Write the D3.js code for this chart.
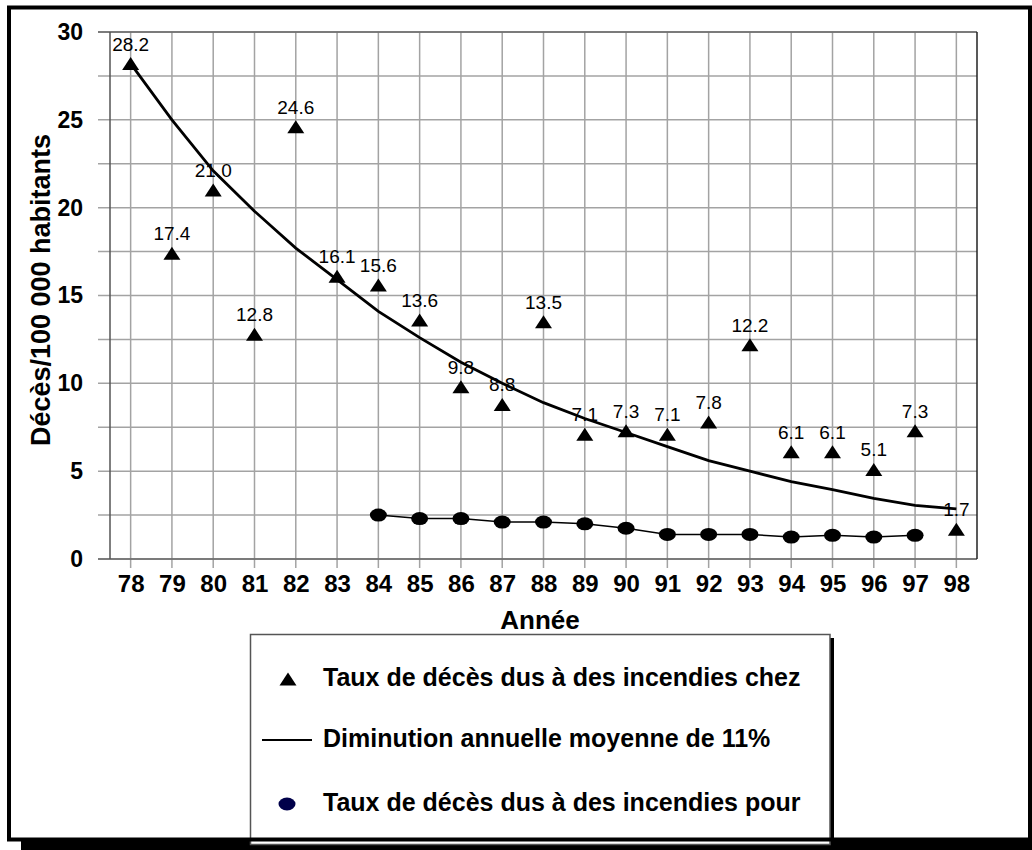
<!DOCTYPE html>
<html>
<head>
<meta charset="utf-8">
<script src="https://cdn.jsdelivr.net/npm/d3@7"></script>
<style>
  html, body { margin: 0; padding: 0; background: #fff; }
  svg { display: block; }
</style>
</head>
<body>
<script>
// ---------------- data ----------------
const years = ["78","79","80","81","82","83","84","85","86","87","88","89","90","91","92","93","94","95","96","97","98"];
const homeRates = [28.2,17.4,21.0,12.8,24.6,16.1,15.6,13.6,9.8,8.8,13.5,7.1,7.3,7.1,7.8,12.2,6.1,6.1,5.1,7.3,1.7];
const trendRates = [28.2,25.0,22.1,19.8,17.7,15.9,14.1,12.6,11.2,10.0,8.9,8.0,7.2,6.4,5.6,5.0,4.4,3.95,3.45,3.05,2.85];
const otherYears = ["84","85","86","87","88","89","90","91","92","93","94","95","96","97"];
const otherRates = [2.5,2.3,2.3,2.1,2.1,2.0,1.75,1.4,1.4,1.4,1.25,1.35,1.25,1.35];
const yTickValues = [0,5,10,15,20,25,30];
const yGridValues = [0,2.5,5,7.5,10,12.5,15,17.5,20,22.5,25,27.5,30];
const yTitle = "Décès/100 000 habitants";
const xTitle = "Année";
const legendLabels = [
  "Taux de décès dus à des incendies chez",
  "Diminution annuelle moyenne de 11%",
  "Taux de décès dus à des incendies pour"
];

// ---------------- layout ----------------
const W = 1032, H = 850;
const FONT = "'Liberation Sans', Arial, Helvetica, sans-serif";
const plot = { left: 110, right: 977, top: 32, bottom: 559 };

const svg = d3.select("body").append("svg")
  .attr("width", W).attr("height", H)
  .style("font-family", FONT);

// outer frame with shadow
svg.append("rect").attr("x", 21).attr("y", 19).attr("width", W).attr("height", H).attr("fill", "#000");
svg.append("rect").attr("x", 9).attr("y", 7.5).attr("width", 1021).attr("height", 832).attr("fill", "#fff");

const x = d3.scalePoint().domain(years).range([plot.left, plot.right]).padding(0.5);
const y = d3.scaleLinear().domain([0, 30]).range([plot.bottom, plot.top]);

// grid
const grid = svg.append("g");
grid.selectAll("line.h").data(yGridValues).join("line")
  .attr("x1", plot.left - 12).attr("x2", plot.right)
  .attr("y1", d => y(d)).attr("y2", d => y(d))
  .attr("stroke", "#a3a3a3").attr("stroke-width", 1.5);
grid.selectAll("line.v").data(years).join("line")
  .attr("x1", d => x(d)).attr("x2", d => x(d))
  .attr("y1", plot.top).attr("y2", plot.bottom + 9)
  .attr("stroke", "#a3a3a3").attr("stroke-width", 1.5);

// plot borders
svg.append("line").attr("x1", plot.left - 12).attr("x2", plot.right).attr("y1", plot.top).attr("y2", plot.top)
  .attr("stroke", "#666").attr("stroke-width", 1.5);
svg.append("line").attr("x1", plot.left - 12).attr("x2", plot.right).attr("y1", plot.bottom).attr("y2", plot.bottom)
  .attr("stroke", "#666").attr("stroke-width", 1.5);
svg.append("line").attr("x1", plot.left).attr("x2", plot.left).attr("y1", plot.top).attr("y2", plot.bottom)
  .attr("stroke", "#555").attr("stroke-width", 1.5);
svg.append("line").attr("x1", plot.right).attr("x2", plot.right).attr("y1", plot.top).attr("y2", plot.bottom)
  .attr("stroke", "#222").attr("stroke-width", 1.5);

// axes labels
const yAxis = svg.append("g").attr("transform", `translate(${plot.left},0)`)
  .call(d3.axisLeft(y).tickValues(yTickValues).tickSize(0).tickPadding(27).tickFormat(d3.format("d")));
yAxis.select(".domain").remove();
yAxis.selectAll("text").attr("font-size", 23).attr("font-weight", "bold").attr("fill", "#000")
  .style("font-family", FONT);

const xAxis = svg.append("g").attr("transform", `translate(0,${plot.bottom})`)
  .call(d3.axisBottom(x).tickSize(0).tickPadding(16));
xAxis.select(".domain").remove();
xAxis.selectAll("text").attr("font-size", 24).attr("font-weight", "bold").attr("fill", "#000")
  .style("font-family", FONT);

// titles
svg.append("text").attr("transform", "translate(50,290) rotate(-90)")
  .attr("text-anchor", "middle").attr("font-size", 27).attr("font-weight", "bold").text(yTitle);
svg.append("text").attr("x", 540).attr("y", 629)
  .attr("text-anchor", "middle").attr("font-size", 26).attr("font-weight", "bold").text(xTitle);

// data labels
svg.append("g").selectAll("text").data(years).join("text")
  .attr("x", d => x(d)).attr("y", (d, i) => y(homeRates[i]) - 13)
  .attr("text-anchor", "middle").attr("font-size", 19)
  .text((d, i) => homeRates[i].toFixed(1));

// trend line
const line = d3.line().x(d => x(d[0])).y(d => y(d[1]));
svg.append("path").datum(years.map((d, i) => [d, trendRates[i]]))
  .attr("d", line).attr("fill", "none").attr("stroke", "#000").attr("stroke-width", 2.8);

// other series line + ellipses
svg.append("path").datum(otherYears.map((d, i) => [d, otherRates[i]]))
  .attr("d", line).attr("fill", "none").attr("stroke", "#000").attr("stroke-width", 1.5);
svg.append("g").selectAll("ellipse").data(otherYears).join("ellipse")
  .attr("cx", d => x(d)).attr("cy", (d, i) => y(otherRates[i]))
  .attr("rx", 8.5).attr("ry", 6.5).attr("fill", "#000");

// triangles
const tri = (w, h) => `M0,${-h/2}L${w/2},${h/2}L${-w/2},${h/2}Z`;
svg.append("g").selectAll("path").data(years).join("path")
  .attr("transform", (d, i) => `translate(${x(d)},${y(homeRates[i])})`)
  .attr("d", tri(17, 13)).attr("fill", "#000");

// legend
svg.append("rect").attr("x", 254).attr("y", 638).attr("width", 580).attr("height", 210).attr("fill", "#000");
svg.append("rect").attr("x", 250.5).attr("y", 634.5).attr("width", 579.5).attr("height", 210)
  .attr("fill", "#fff").attr("stroke", "#555").attr("stroke-width", 1.5);
const lg = svg.append("g");
const rowY = [679, 740, 804];
lg.append("path").attr("transform", `translate(288,${rowY[0]})`).attr("d", tri(17, 13)).attr("fill", "#000");
lg.append("line").attr("x1", 262).attr("x2", 312).attr("y1", rowY[1]).attr("y2", rowY[1])
  .attr("stroke", "#000").attr("stroke-width", 2.2);
lg.append("ellipse").attr("cx", 287).attr("cy", rowY[2]).attr("rx", 8.5).attr("ry", 6.5).attr("fill", "#00004a");
lg.selectAll("text").data(legendLabels).join("text")
  .attr("x", 323).attr("y", (d, i) => rowY[i] + 7)
  .attr("font-size", 25).attr("font-weight", "bold").text(d => d);

// frame stroke on top
svg.append("rect").attr("x", 9).attr("y", 7.5).attr("width", 1021).attr("height", 832)
  .attr("fill", "none").attr("stroke", "#000").attr("stroke-width", 4);
</script>
</body>
</html>
